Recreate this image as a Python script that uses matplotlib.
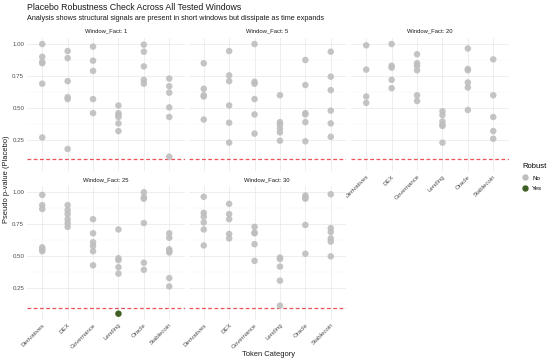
import numpy as np
import matplotlib.pyplot as plt
from matplotlib.ticker import MultipleLocator
from matplotlib.lines import Line2D

plt.rcParams['font.family'] = ['Liberation Sans', 'DejaVu Sans']

# categorias e janelas
categories = ["Derivatives", "DEX", "Governance", "Lending", "Oracle", "Stablecoin"]
windows = [1, 5, 20, 25, 30]
threshold = 0.1

# pseudo p-values, uma lista por categoria
pv_w1 = [[1.00, 0.90, 0.86, 0.85, 0.69, 0.27],
         [0.945, 0.89, 0.71, 0.585, 0.57, 0.18],
         [0.98, 0.87, 0.79, 0.57, 0.46],
         [0.52, 0.46, 0.445, 0.43, 0.38, 0.32],
         [0.995, 0.94, 0.825, 0.72, 0.69],
         [0.73, 0.67, 0.62, 0.505, 0.43, 0.12]]
pv_w5 = [[0.85, 0.65, 0.60, 0.59, 0.41],
         [0.945, 0.755, 0.71, 0.52, 0.385, 0.23],
         [1.00, 0.705, 0.69, 0.57, 0.45, 0.30],
         [0.60, 0.39, 0.37, 0.34, 0.31, 0.245],
         [0.875, 0.68, 0.46, 0.45, 0.39, 0.24],
         [0.94, 0.745, 0.64, 0.48, 0.38, 0.275]]
pv_w20 = [[0.99, 0.80, 0.59, 0.54],
          [1.00, 0.83, 0.815, 0.72, 0.655],
          [0.92, 0.85, 0.83, 0.795, 0.60, 0.555],
          [0.475, 0.445, 0.395, 0.37, 0.36, 0.23],
          [0.965, 0.805, 0.795, 0.70, 0.66, 0.485],
          [0.88, 0.60, 0.43, 0.32, 0.26]]
pv_w25 = [[0.98, 0.90, 0.87, 0.57, 0.555, 0.54],
          [0.90, 0.86, 0.83, 0.79, 0.76, 0.73],
          [0.79, 0.68, 0.61, 0.58, 0.54, 0.43],
          [0.71, 0.485, 0.47, 0.415, 0.365],
          [1.00, 0.96, 0.95, 0.76, 0.45, 0.395],
          [0.68, 0.645, 0.555, 0.54, 0.53, 0.33, 0.265]]
pv_w30 = [[0.965, 0.84, 0.81, 0.765, 0.71, 0.585],
          [0.91, 0.83, 0.79, 0.675, 0.64],
          [0.73, 0.685, 0.68, 0.595, 0.465],
          [0.49, 0.48, 0.42, 0.31, 0.115],
          [0.975, 0.96, 0.95, 0.745, 0.52],
          [0.985, 0.72, 0.69, 0.64, 0.615, 0.50]]
all_pv = [pv_w1, pv_w5, pv_w20, pv_w25, pv_w30]

# únicos pontos robustos (p < 0.1)
robust_window = 25
robust_cat = "Lending"
robust_pv = [0.052]

col_no = "#BEBEBE"
col_yes = "#3F5F25"
txt = '#1A1A1A'

W, H = 550, 362
fig = plt.figure(figsize=(5.5, 3.62), dpi=100)

# posições dos painéis em pixels (esquerda, topo, largura, altura)
cols_x = [27, 188.5, 351]
pw = 157.5
rows_y = [38, 186.3]
ph = 133.4

ylo, yhi = 0.005, 1.047
x = np.arange(len(categories))

for k, w in enumerate(windows):
    r, c = divmod(k, 3)
    left, top = cols_x[c], rows_y[r]
    ax = fig.add_axes([left / W, 1 - (top + ph) / H, pw / W, ph / H])
    ax.set_xlim(-0.6, 5.6)
    ax.set_ylim(ylo, yhi)
    ax.yaxis.set_major_locator(MultipleLocator(0.25))
    ax.yaxis.set_minor_locator(MultipleLocator(0.125))
    ax.set_xticks(x)
    ax.grid(True, which='major', color='#EBEBEB', linewidth=0.6)
    ax.grid(True, which='minor', axis='y', color='#F3F3F3', linewidth=0.35)
    ax.set_axisbelow(True)
    for s in ax.spines.values():
        s.set_visible(False)
    ax.tick_params(length=0, labelsize=4.4, labelcolor='#4D4D4D', pad=2)
    ax.tick_params(which='minor', length=0)

    for i, vals in enumerate(all_pv[k]):
        ax.scatter([x[i]] * len(vals), vals, s=22, color=col_no,
                   edgecolors='none', alpha=0.9, zorder=3)
    if w == robust_window:
        i = categories.index(robust_cat)
        ax.scatter([x[i]] * len(robust_pv), robust_pv, s=22, color=col_yes,
                   edgecolors='none', zorder=3)

    ax.axhline(threshold, color='#E8333A', linestyle=(0, (3, 2)),
               linewidth=0.9, alpha=0.85, zorder=2)

    ax.set_title("Window_Fact: %d" % w, fontsize=4.2, color=txt, pad=3.8)

    if c == 0:
        ax.set_yticklabels(["0.00", "0.25", "0.50", "0.75", "1.00"])
    else:
        ax.set_yticklabels([])
    if r == 1 or c == 2:
        ax.set_xticklabels(categories, rotation=45, ha='right',
                           rotation_mode='anchor', fontsize=4.4)
    else:
        ax.set_xticklabels([])

fig.text(27 / W, 1 - 7.5 / H, "Placebo Robustness Check Across All Tested Windows",
         fontsize=6.3, color=txt, ha='left', va='center')
fig.text(27 / W, 1 - 18.5 / H,
         "Analysis shows structural signals are present in short windows but dissipate as time expands",
         fontsize=5.2, color=txt, ha='left', va='center')
fig.text(7 / W, 1 - 179 / H, "Pseudo p-value (Placebo)", rotation=90,
         fontsize=5.4, ha='center', va='center', color=txt)
fig.text(268 / W, 1 - 355 / H, "Token Category", fontsize=5.4,
         ha='center', va='center', color=txt)

# legenda
handles = [Line2D([], [], marker='o', linestyle='', color=col_no, markersize=3.6, label='No'),
           Line2D([], [], marker='o', linestyle='', color=col_yes, markersize=3.6, label='Yes')]
leg = fig.legend(handles=handles, title="Robust", loc='center left',
                 bbox_to_anchor=(518 / W, 1 - 177 / H), frameon=False,
                 fontsize=4.4, title_fontsize=5.5, handlelength=0.8,
                 handletextpad=0.8, labelspacing=0.9, borderpad=0.2)
leg._legend_box.align = "left"

fig.savefig("out.png", dpi=100)
